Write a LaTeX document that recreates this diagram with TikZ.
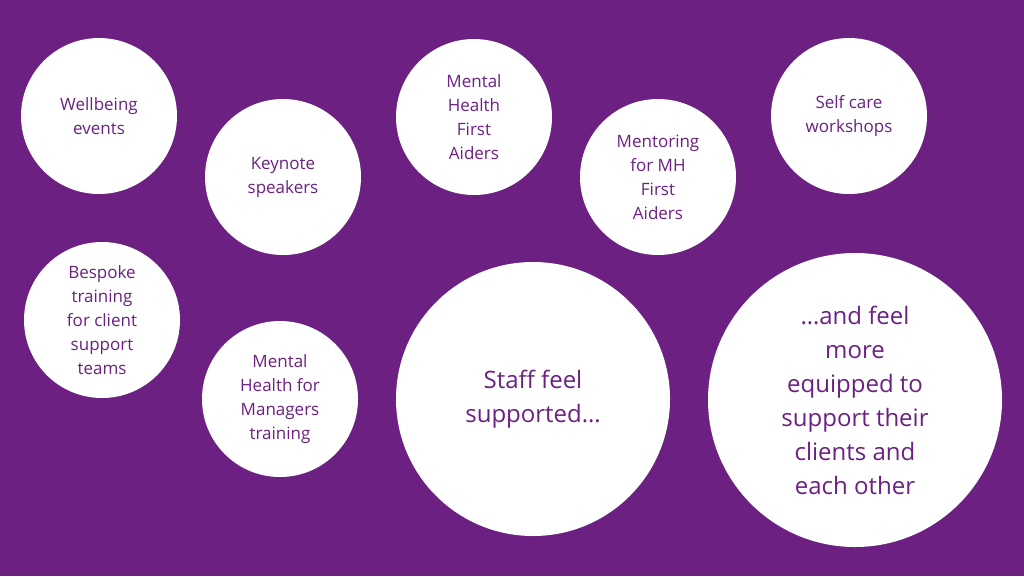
\documentclass[tikz,border=0pt]{standalone}
\usepackage{fontspec}
\setmainfont{Open Sans}
\definecolor{bg}{HTML}{6C2182}
\begin{document}
\begin{tikzpicture}[x=1pt,y=-1pt,
  bub/.style={circle,fill=white,inner sep=0pt,minimum size=#1,text=bg,align=center},
  sm/.style={font=\fontsize{17}{24}\selectfont},
  lg/.style={font=\fontsize{24}{34}\selectfont}]
\fill[bg] (0,0) rectangle (1024,576);
\useasboundingbox (0,0) rectangle (1024,576);
\node[bub=156pt,sm] (a) at (99,116) {Wellbeing\\events};
\node[bub=156pt,sm] (b) at (283,177) {Keynote\\speakers};
\node[bub=156pt,sm] (c) at (474,117) {Mental\\Health\\First\\Aiders};
\node[bub=156pt,sm] (d) at (658,177) {Mentoring\\for MH\\First\\Aiders};
\node[bub=156pt,sm] (e) at (849,116) {Self care\\workshops};
\node[bub=156pt,sm] (f) at (102,320) {Bespoke\\training\\for client\\support\\teams};
\node[bub=156pt,sm] (g) at (280,399) {Mental\\Health for\\Managers\\training};
\node[bub=274pt,lg] (h) at (533,399) {Staff feel\\supported…};
\node[bub=294pt,lg] (i) at (855,400) {…and feel\\more\\equipped to\\support their\\clients and\\each other};
\end{tikzpicture}
\end{document}
